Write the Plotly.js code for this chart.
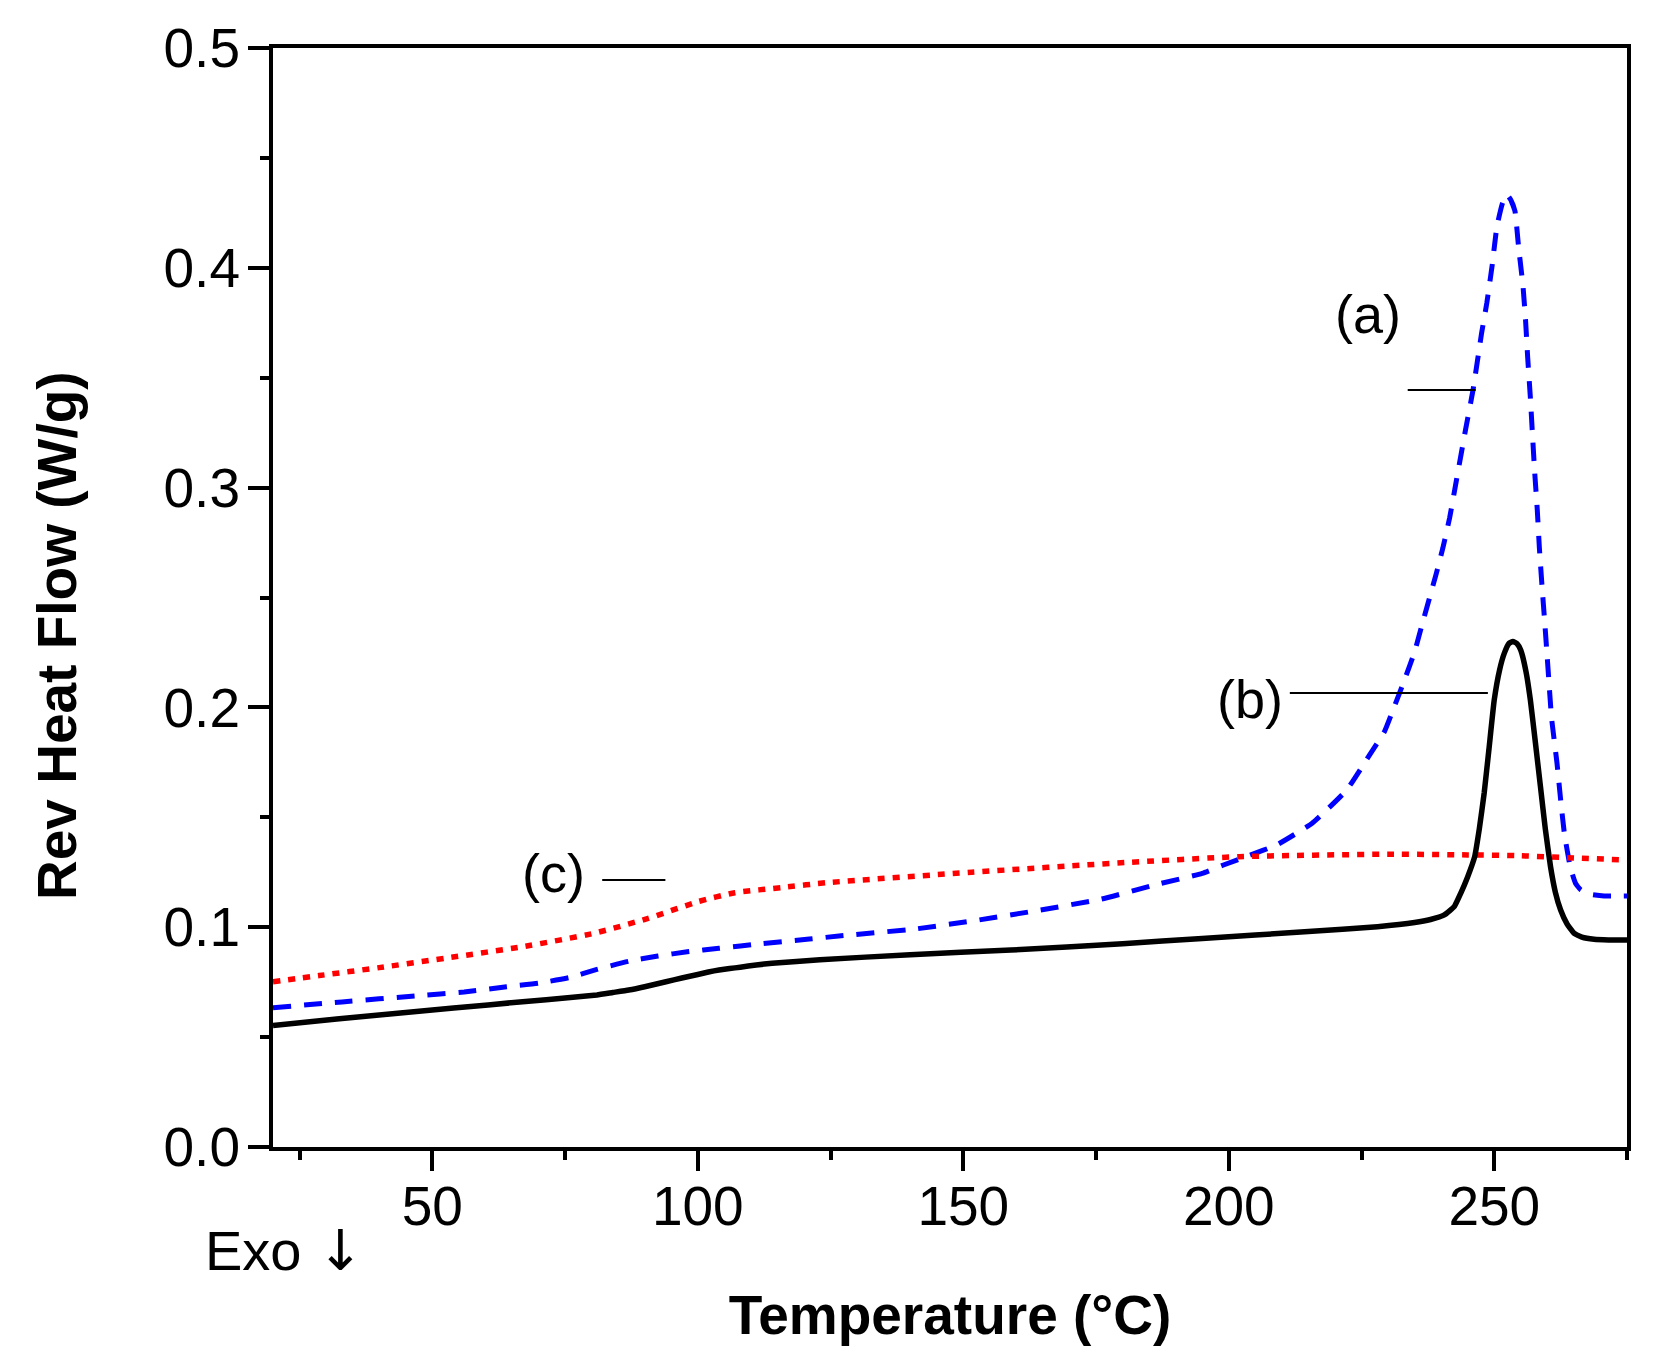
<!DOCTYPE html>
<html>
<head>
<meta charset="utf-8">
<script src="https://cdn.plot.ly/plotly-3.0.1.min.js"></script>
<style>
  html, body { margin: 0; padding: 0; background: #ffffff; }
  #chart { width: 1653px; height: 1355px; }
</style>
</head>
<body>
<div id="chart"></div>
<script>
// ---- Data ----
// (a) blue dashed
const tempA = [20, 33, 47, 56, 64, 70, 76, 81, 87, 92.5, 98, 104, 112, 121, 127, 141, 153, 164.5, 176, 186, 195, 199, 204, 209, 215.7, 222.2, 226.5, 229.3, 231.2, 233.1, 235, 236.5, 239, 240.3, 241.6, 242.9, 244.6, 246, 247.6, 248.6, 249.6, 250.5, 251.5, 252.3, 253.1, 253.9, 254.6, 255.4, 255.9, 256.3, 256.8, 257.2, 257.6, 258.1, 258.5, 259, 259.5, 260, 260.8, 261.8, 262.5, 263.2, 264.3, 265.3, 266.3, 268, 270.7, 275];
const flowA = [0.0634, 0.0660, 0.0688, 0.0705, 0.0729, 0.0745, 0.0772, 0.0808, 0.0845, 0.0869, 0.0888, 0.0904, 0.0925, 0.0946, 0.0961, 0.0992, 0.1033, 0.1078, 0.1128, 0.1192, 0.1245, 0.1283, 0.1328, 0.1374, 0.1473, 0.1624, 0.1783, 0.1889, 0.2005, 0.2125, 0.2253, 0.2385, 0.2602, 0.2723, 0.2863, 0.3037, 0.3264, 0.3444, 0.3700, 0.3840, 0.4010, 0.4188, 0.4290, 0.4335, 0.4310, 0.4258, 0.4090, 0.3920, 0.3760, 0.3590, 0.3410, 0.3240, 0.3075, 0.2900, 0.2725, 0.2550, 0.2390, 0.2220, 0.1950, 0.1750, 0.1580, 0.1428, 0.1275, 0.1200, 0.1170, 0.1150, 0.1142, 0.1142];

// (b) black solid
const tempB = [20, 32, 45, 54, 67, 76, 81, 84, 87, 90, 94, 97, 100, 102, 104, 106, 108, 111, 114, 123, 140, 159, 180, 195, 215, 228, 235, 238, 240.6, 242.5, 243.7, 245, 246.3, 247.2, 248.1, 249, 250, 251, 251.9, 252.8, 253.5, 254.3, 255, 256, 256.8, 257.7, 258.7, 259.6, 260.6, 261.5, 262.5, 263.7, 265, 266.5, 268.8, 271.5, 275];
const flowB = [0.0553, 0.0582, 0.0612, 0.0632, 0.0661, 0.0680, 0.0692, 0.0703, 0.0714, 0.0729, 0.0752, 0.0769, 0.0785, 0.0796, 0.0805, 0.0812, 0.0818, 0.0828, 0.0836, 0.0852, 0.0875, 0.0896, 0.0925, 0.0949, 0.0980, 0.1002, 0.1021, 0.1035, 0.1056, 0.1095, 0.1155, 0.1230, 0.1320, 0.1450, 0.1610, 0.1810, 0.2034, 0.2170, 0.2247, 0.2292, 0.2300, 0.2290, 0.2260, 0.2160, 0.2034, 0.1850, 0.1640, 0.1450, 0.1275, 0.1160, 0.1078, 0.1015, 0.0973, 0.0955, 0.0945, 0.0942, 0.0942];

// (c) red dotted
const tempC = [20, 28.7, 40, 53.6, 67, 80.4, 90.5, 100, 107, 116, 124.5, 151.6, 180.4, 202, 230, 245, 255, 265, 275];
const flowC = [0.0752, 0.0780, 0.0816, 0.0863, 0.0911, 0.0972, 0.1039, 0.1116, 0.1157, 0.1181, 0.1203, 0.1250, 0.1294, 0.1321, 0.1332, 0.1329, 0.1325, 0.1315, 0.1306];

// Labels
const curveLabels = ["(a)", "(b)", "(c)"];
const xTickVals = [50, 100, 150, 200, 250];
const yTickVals = [0.0, 0.1, 0.2, 0.3, 0.4, 0.5];

// ---- Placement of labels and leader lines (data coordinates) ----
const labelPos = [
  {x: 226.3, y: 0.379},
  {x: 204.0, y: 0.204},
  {x: 72.8,  y: 0.1247}
];
const leaderPos = [
  {x0: 233.7, x1: 246.5, y: 0.3444},
  {x0: 211.5, x1: 248.8, y: 0.2065},
  {x0: 82.0,  x1: 93.9,  y: 0.1215}
];

const FONT = "Liberation Sans, Arial, Helvetica, sans-serif";
const NBSP = "\u00a0";

const traces = [
  {x: tempA, y: flowA, type: 'scatter', mode: 'lines', name: '(a)',
   line: {color: '#0000ff', width: 5, dash: '18px,13px', shape: 'spline', smoothing: 0.4}},
  {x: tempC, y: flowC, type: 'scatter', mode: 'lines', name: '(c)',
   line: {color: '#ff0000', width: 5.5, dash: '7px,8px', shape: 'spline', smoothing: 0.5}},
  {x: tempB, y: flowB, type: 'scatter', mode: 'lines', name: '(b)',
   line: {color: '#000000', width: 5.5, shape: 'spline', smoothing: 0.4}}
];

const annotations = curveLabels.map((t, i) => ({
  x: labelPos[i].x, y: labelPos[i].y, xref: 'x', yref: 'y',
  text: t, showarrow: false, xanchor: 'center', yanchor: 'middle',
  font: {family: FONT, size: 54, color: '#000'}
}));
annotations.push({
  x: 0.0085, y: -0.094, xref: 'paper', yref: 'paper',
  text: 'Exo <span style="font-family:DejaVu Sans">\u2193</span>', showarrow: false, xanchor: 'center', yanchor: 'middle',
  font: {family: FONT, size: 56, color: '#000'}
});

const shapes = leaderPos.map(p => ({
  type: 'line', xref: 'x', yref: 'y',
  x0: p.x0, x1: p.x1, y0: p.y, y1: p.y,
  line: {color: '#000', width: 2}
}));

const layout = {
  width: 1653, height: 1355,
  margin: {l: 273, r: 26, t: 48, b: 208, pad: 0},
  paper_bgcolor: '#ffffff', plot_bgcolor: '#ffffff',
  showlegend: false,
  font: {family: FONT, color: '#000'},
  xaxis: {
    range: [20, 275], tickvals: xTickVals, ticktext: xTickVals.map(String),
    ticks: 'outside', ticklen: 20, tickwidth: 4, tickcolor: '#000',
    minor: {tickvals: [25, 75, 125, 175, 225, 275], ticks: 'outside', ticklen: 9, tickwidth: 4, tickcolor: '#000'},
    showline: true, linewidth: 4, linecolor: '#000', mirror: true,
    showgrid: false, zeroline: false,
    tickfont: {family: FONT, size: 55, color: '#000'},
    ticklabelstandoff: -12,
    title: {text: '<b>Temperature (°C)</b>', font: {family: FONT, size: 55, color: '#000'}, standoff: 60},
    automargin: false
  },
  yaxis: {
    range: [0, 0.5], tickvals: yTickVals, ticktext: yTickVals.map(v => v.toFixed(1)),
    ticks: 'outside', ticklen: 21, tickwidth: 4, tickcolor: '#000',
    minor: {tickvals: [0.05, 0.15, 0.25, 0.35, 0.45], ticks: 'outside', ticklen: 9, tickwidth: 4, tickcolor: '#000'},
    showline: true, linewidth: 4, linecolor: '#000', mirror: true,
    showgrid: false, zeroline: false,
    tickfont: {family: FONT, size: 55, color: '#000'},
    ticklabelstandoff: -3,
    title: {text: '<b>Rev Heat Flow (W/g)' + NBSP.repeat(5) + '</b>', font: {family: FONT, size: 55, color: '#000'}, standoff: 70},
    automargin: false
  },
  annotations: annotations,
  shapes: shapes
};

Plotly.newPlot('chart', traces, layout, {staticPlot: true, displayModeBar: false});
</script>
</body>
</html>
